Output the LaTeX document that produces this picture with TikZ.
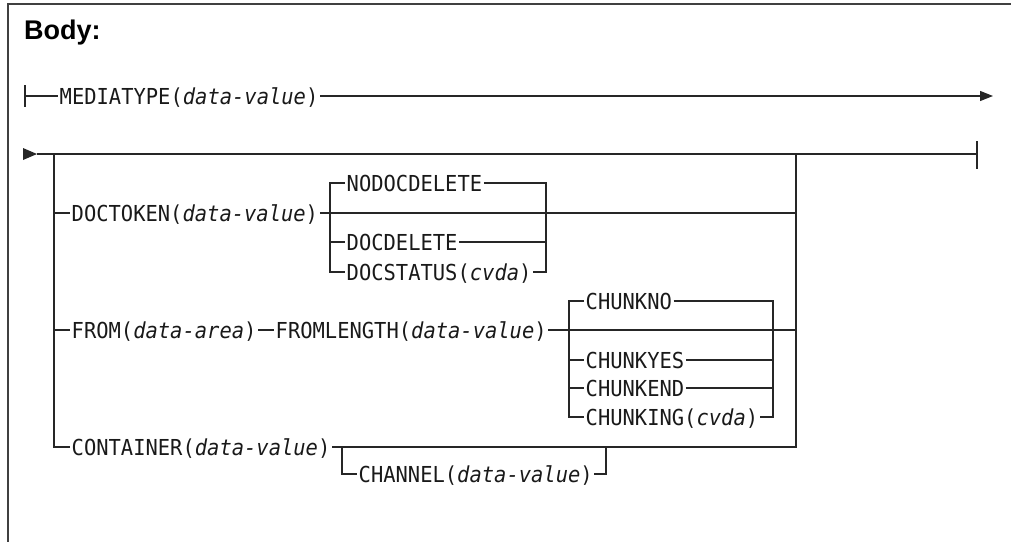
\documentclass[tikz,border=0pt]{standalone}
\usepackage{fontspec}
\setmainfont{Liberation Sans}
\newfontfamily\synfont[FakeStretch=0.93, ItalicFont={DejaVu Sans Mono Oblique}]{DejaVu Sans Mono}
\usetikzlibrary{
  arrows.meta % Pfeilspitzen
}

\begin{document}
\begin{tikzpicture}[
    x=1pt, y=-1pt, % Pixelkoordinaten
    syn/.style={line width=1.2pt, black!85}, % Syntaxlinien
    kw/.style={anchor=west, inner sep=0pt, inner xsep=1.5pt, text=black!90,
      font={\synfont\fontsize{22pt}{22pt}\selectfont},
      text height=19.5pt, text depth=3.5pt}, % Schluesselwoerter
    >={Triangle[length=13pt, width=10pt]},
  ]
    \useasboundingbox (0,0) rectangle (1011,542);

    % Rahmen
    \draw[line width=2pt, black!75] (1011,4) -- (8,4) -- (8,542);
    \node[anchor=base west, inner sep=0pt, font=\bfseries\fontsize{27pt}{27pt}\selectfont]
      (titel) at (24,39) {Body:};

    % Zeile 1
    \coordinate (s1) at (25,96);
    \coordinate (e1) at (993,96);
    \draw[syn] (25,85) -- (25,107);
    \node[kw] (media) at (58,96) {MEDIATYPE(\textit{data-value})};
    \draw[syn] (s1) -- (media.west);
    \draw[syn, ->] (media.east) -- (e1);

    % Zeile 2
    \coordinate (s2) at (37,154);
    \coordinate (e2) at (977,154);
    \coordinate (lo) at (54,154);
    \coordinate (ro) at (796,154);
    \fill[black!85] (23,148) -- (s2) -- (23,160) -- cycle;
    \draw[syn] (s2) -- (e2);
    \draw[syn] (977,141) -- (977,169);

    % Hauptzweige
    \node[kw] (doctoken) at (70,213) {DOCTOKEN(\textit{data-value})};
    \node[kw] (from) at (70,330) {FROM(\textit{data-area})};
    \node[kw] (fromlen) at (274,330) {FROMLENGTH(\textit{data-value})};
    \node[kw] (container) at (70,447) {CONTAINER(\textit{data-value})};
    \draw[syn] (lo) |- (container.west);
    \draw[syn] (container.east) -| (ro);
    \foreach \n in {doctoken, from}
    \draw[syn] (lo |- \n.west) -- (\n.west);
    \draw[syn] (from.east) -- (fromlen.west);
    \draw[syn] (doctoken.east) -- (ro |- doctoken.west);
    \draw[syn] (fromlen.east) -- (ro |- fromlen.west);

    % DOCDELETE-Auswahl
    \coordinate (dl) at (330,183);
    \coordinate (dr) at (546,183);
    \node[kw] (nodel) at (345,183) {NODOCDELETE};
    \node[kw] (docdel) at (345,242) {DOCDELETE};
    \node[kw] (docstat) at (345,272) {DOCSTATUS(\textit{cvda})};
    \draw[syn] (nodel.west) -- (dl) |- (docstat.west);
    \draw[syn] (nodel.east) -- (dr) |- (docstat.east);
    \draw[syn] (dl |- docdel.west) -- (docdel.west);
    \draw[syn] (docdel.east) -- (dr |- docdel.west);

    % CHUNK-Auswahl
    \coordinate (cl) at (569,301);
    \coordinate (cr) at (773,301);
    \node[kw] (chno) at (584,301) {CHUNKNO};
    \node[kw] (chyes) at (584,360) {CHUNKYES};
    \node[kw] (chend) at (584,388) {CHUNKEND};
    \node[kw] (ching) at (584,417) {CHUNKING(\textit{cvda})};
    \draw[syn] (chno.west) -- (cl) |- (ching.west);
    \draw[syn] (chno.east) -- (cr) |- (ching.east);
    \foreach \n in {chyes, chend}
    \draw[syn] (cl |- \n.west) -- (\n.west) (\n.east) -- (cr |- \n.west);

    % CHANNEL
    \coordinate (kl) at (342,447);
    \coordinate (kr) at (606,447);
    \node[kw] (channel) at (357,474) {CHANNEL(\textit{data-value})};
    \draw[syn] (kl) |- (channel.west);
    \draw[syn] (channel.east) -| (kr);
\end{tikzpicture}
\end{document}
